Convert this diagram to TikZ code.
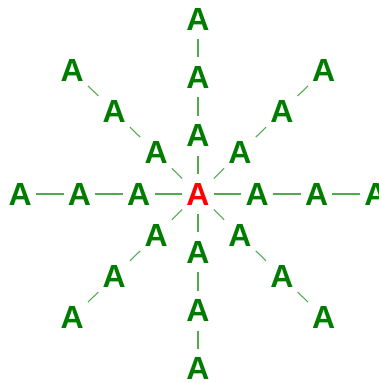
\documentclass[tikz,border=0pt]{standalone}
\usepackage{fontspec}
\setmainfont{Liberation Sans}
\usetikzlibrary{positioning}
\definecolor{leafgreen}{RGB}{0,125,0}
\definecolor{spokegreen}{RGB}{80,170,80}
\tikzset{
  letter/.style={text=leafgreen,font=\bfseries\fontsize{24}{24}\selectfont,
    inner xsep=3pt,inner ysep=6.5pt},
  hub/.style={letter,text=red},
  spoke/.style={draw=spokegreen,line width=0.8pt},
}
\begin{document}
\begin{tikzpicture}[x=0.75pt,y=0.75pt]
  \useasboundingbox (0,0) rectangle (379,383);
  \node[hub] (c) at (198,189) {A};
  % eight rays of three letters each
  \foreach \ang in {0,45,...,315}{
    \foreach \i in {1,2,3}{
      \path (c.center) ++(\ang:{59.3*\i} and {58.3*\i}) node[letter] (a\ang-\i) {A};
    }
    \draw[spoke] (c) -- (a\ang-1);
    \draw[spoke] (a\ang-1) -- (a\ang-2);
    \draw[spoke] (a\ang-2) -- (a\ang-3);
  }
\end{tikzpicture}
\end{document}
